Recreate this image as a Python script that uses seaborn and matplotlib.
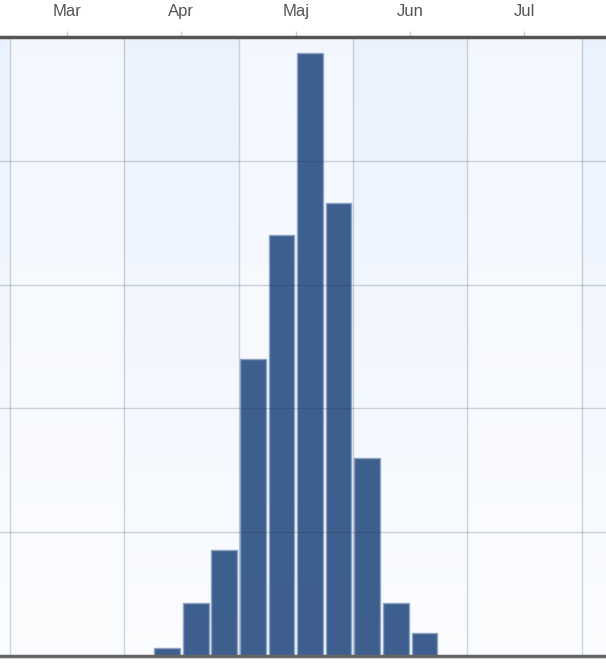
import numpy as np
import pandas as pd
import seaborn as sns
import matplotlib.pyplot as plt

# month labels on the top axis (month number = position)
months = ["Mar", "Apr", "Maj", "Jun", "Jul"]
month_pos = [3, 4, 5, 6, 7]

# quarter-month bins (start position in month units) and bar heights
bin_start = [3.75, 4.0, 4.25, 4.5, 4.75, 5.0, 5.25, 5.5, 5.75, 6.0]
counts = [0.65, 4.3, 8.6, 24.0, 34.0, 48.7, 36.6, 16.0, 4.3, 1.85]

df = pd.DataFrame({"pos": np.array(bin_start) + 0.125, "n": counts})

sns.set_style("white")
plt.rcParams["font.family"] = ["Liberation Sans", "DejaVu Sans"]

fig = plt.figure(figsize=(6.06, 6.68), dpi=100)
ax = fig.add_axes([0, 0.018, 1, 0.9266])

x0, x1 = 2.4125, 7.714
y0, y1 = 0, 50

# background: alternating bands with a vertical fade to white
bands = np.arange(1.5, 8.5, 1.0)
for i, b in enumerate(bands):
    top = np.array([0.918, 0.949, 0.995]) if i % 2 == 0 else np.array([0.953, 0.969, 0.996])
    bot = np.array([0.984, 0.99, 1.0])
    grad = np.linspace(0, 1, 64)[:, None]
    img = top * (1 - grad[..., None]) + bot * grad[..., None]
    img = np.repeat(img, 2, axis=1)
    ax.imshow(img, extent=[b, b + 1, y0, y1], origin="upper", aspect="auto", zorder=0)

sns.histplot(data=df, x="pos", weights="n", bins=len(bin_start),
             binrange=(bin_start[0], bin_start[-1] + 0.25),
             shrink=0.9, color="#2f5386", alpha=0.93, edgecolor="#8ea3c2",
             linewidth=1, ax=ax, zorder=2)

ax.set_xlim(x0, x1)
ax.set_ylim(y0, y1)

# grid drawn over the bars
for v in np.arange(2.5, 8.0, 1.0):
    ax.axvline(v, color="#20304a", alpha=0.2, lw=1, zorder=3)
for h in [10, 20, 30, 40]:
    ax.axhline(h, color="#20304a", alpha=0.2, lw=1, zorder=3)

ax.xaxis.tick_top()
ax.set_xticks(month_pos)
ax.set_xticklabels(months, fontsize=12, color="#555555")
ax.tick_params(axis="x", length=4, width=1, color="#cccccc", pad=9, direction="out")
ax.set_yticks([])
ax.set_xlabel("")
ax.set_ylabel("")

for s in ["left", "right"]:
    ax.spines[s].set_visible(False)
ax.spines["top"].set_color("#555555")
ax.spines["top"].set_linewidth(2.5)
ax.spines["bottom"].set_color("#666666")
ax.spines["bottom"].set_linewidth(2.5)
for sp in ax.spines.values():
    sp.set_zorder(5)

fig.savefig("out.png", dpi=100)
